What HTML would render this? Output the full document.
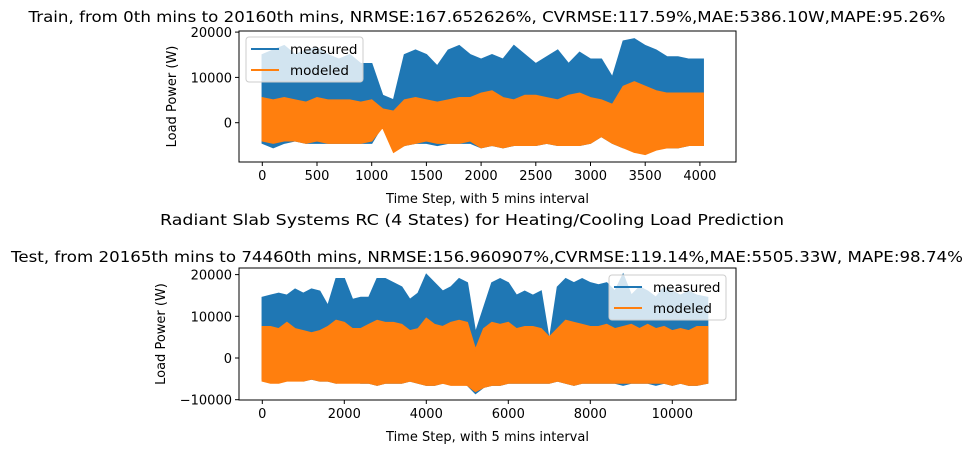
<!DOCTYPE html>
<html><head><meta charset="utf-8"><style>
body{margin:0;background:#fff;}
svg text{font-family:"DejaVu Sans","Liberation Sans",sans-serif;fill:#000;}
</style></head><body>
<svg id="chart" width="973" height="453" viewBox="0 0 973 453" xmlns="http://www.w3.org/2000/svg">
<text x="487" y="22" font-size="15.5" text-anchor="middle" textLength="917" lengthAdjust="spacingAndGlyphs">Train, from 0th mins to 20160th mins, NRMSE:167.652626%, CVRMSE:117.59%,MAE:5386.10W,MAPE:95.26%</text>
<text x="472" y="225" font-size="15.5" text-anchor="middle" textLength="624" lengthAdjust="spacingAndGlyphs">Radiant Slab Systems RC (4 States) for Heating/Cooling Load Prediction</text>
<text x="487" y="262" font-size="15.5" text-anchor="middle" textLength="952" lengthAdjust="spacingAndGlyphs">Test, from 20165th mins to 74460th mins, NRMSE:156.960907%,CVRMSE:119.14%,MAE:5505.33W, MAPE:98.74%</text>
<g id="top"></g><g id="bot"></g>
</svg>
<script>
// Train data (every 100 steps, 0..4000)
const trainSteps=[0,100,200,300,400,500,600,700,800,900,1000,1100,1200,1300,1400,1500,1600,1700,1800,1900,2000,2100,2200,2300,2400,2500,2600,2700,2800,2900,3000,3100,3200,3300,3400,3500,3600,3700,3800,3900,4030];
const trainMeasHi=[15000,16000,17000,15000,16000,16500,15000,14000,15000,13000,13000,6000,5000,15000,16000,15000,12500,16000,17000,15000,14000,15000,14000,17000,15000,13000,14500,16000,13000,15500,14000,14000,10000,18000,18500,17000,16000,14500,14500,14000,14000];
const trainMeasLo=[-4500,-5500,-4500,-4000,-4500,-4500,-4500,-4500,-4500,-4500,-4500,-500,-6000,-5000,-4500,-4500,-5000,-4500,-4500,-4500,-5500,-5000,-5500,-5000,-5000,-5000,-4500,-5000,-5000,-5000,-4500,-3000,-4500,-5500,-5500,-6500,-5500,-5500,-5500,-5000,-5000];
const trainModHi=[5500,5000,5500,5000,4500,5500,5000,5000,5000,4500,5000,3000,2500,5000,5500,5000,4500,5000,5500,5500,6500,7000,5500,5000,6000,6000,5500,5000,6000,6500,5500,5000,4000,8000,9000,8000,7000,6500,6500,6500,6500];
const trainModLo=[-4000,-4500,-4000,-4000,-4500,-4000,-4500,-4500,-4500,-4500,-4000,-1000,-6500,-5000,-4500,-4000,-4500,-4500,-4500,-4000,-5500,-5000,-5500,-5000,-5000,-5000,-4500,-5000,-5000,-5000,-4500,-3000,-4500,-5500,-6500,-7000,-6000,-5500,-5500,-5000,-5000];
// Test data (every 200 steps)
const testSteps=[0,200,400,600,800,1000,1200,1400,1600,1800,2000,2200,2400,2600,2800,3000,3200,3400,3600,3800,4000,4200,4400,4600,4800,5000,5200,5400,5600,5800,6000,6200,6400,6600,6800,7000,7200,7400,7600,7800,8000,8200,8400,8600,8800,9000,9200,9400,9600,9800,10000,10200,10400,10600,10860];
const testMeasHi=[14500,15000,15500,15000,16500,15500,16500,16000,12500,19000,19000,14000,14500,14500,19000,19000,18000,17000,14000,15500,20000,18000,16000,17000,19000,18000,6000,12000,18000,19000,18000,15000,16000,15000,16000,4000,17000,19000,18000,19000,18000,17500,18000,16000,20000,15000,17000,16000,14500,17000,16000,15000,16000,15000,14500];
const testMeasLo=[-5000,-5500,-5500,-5000,-5000,-5500,-5000,-5500,-5500,-6000,-5500,-5500,-6000,-6000,-6500,-6000,-6000,-6000,-5500,-6000,-6500,-6500,-6000,-6000,-6000,-6500,-8500,-7000,-6500,-6500,-6000,-6000,-6000,-6000,-6000,-6000,-5500,-6000,-6500,-6000,-6000,-6000,-6000,-6000,-6500,-6000,-6000,-6000,-6500,-6000,-6500,-6000,-6500,-6500,-6000];
const testModHi=[7500,7500,7000,8500,7000,6500,6000,6500,7500,9000,8500,7000,7000,8000,9000,8500,8500,8000,6500,7000,9500,8000,7500,8500,9000,8500,2000,7000,8500,8000,8500,7000,7500,7500,7000,5000,7000,9000,8500,8000,7500,7500,8000,7000,7500,8000,7000,8000,7000,7500,6500,7000,6500,7500,7500];
const testModLo=[-5500,-6000,-6000,-5500,-5500,-5500,-5000,-5500,-5500,-6000,-6000,-6000,-6000,-6000,-6500,-6000,-6000,-6000,-5500,-6000,-6500,-6500,-6000,-6500,-6500,-6500,-8000,-7000,-6500,-6500,-6000,-6000,-6000,-6000,-6000,-6000,-5500,-6000,-6500,-6000,-6000,-6000,-6000,-6000,-6000,-6000,-6000,-6000,-6000,-6000,-6500,-6000,-6500,-6500,-6000];
const trainXTicks=[0,500,1000,1500,2000,2500,3000,3500,4000];
const trainYTicks=[0,10000,20000];
const testXTicks=[0,2000,4000,6000,8000,10000];
const testYTicks=[-10000,0,10000,20000];

const NS="http://www.w3.org/2000/svg";
function mk(tag,attrs,parent){const e=document.createElementNS(NS,tag);for(const k in attrs)e.setAttribute(k,attrs[k]);parent.appendChild(e);return e;}

function panel(g,o){
  const X=v=>o.x0+(v-o.xmin)*o.kx, Y=v=>o.y0-(v-o.ymin)*o.ky;
  function band(steps,hi,lo,color,name){
    let pts=[];
    for(let i=0;i<steps.length;i++)pts.push(X(steps[i]).toFixed(1)+","+Y(hi[i]).toFixed(1));
    for(let i=steps.length-1;i>=0;i--)pts.push(X(steps[i]).toFixed(1)+","+Y(lo[i]).toFixed(1));
    const p=mk('polygon',{points:pts.join(' '),fill:color,stroke:color,'stroke-width':1.5,'stroke-linejoin':'miter'},g);
    
    
  }
  band(o.steps,o.mh,o.ml,'#1f77b4',o.id+'-measured-series');
  band(o.steps,o.dh,o.dl,'#ff7f0e',o.id+'-modeled-series');
  const fr=mk('rect',{x:o.L,y:o.T,width:o.R-o.L,height:o.B-o.T,fill:'none',stroke:'#000','stroke-width':1},g);
  
  
  o.xt.forEach(v=>{
    mk('line',{x1:X(v),x2:X(v),y1:o.B,y2:o.B+4,stroke:'#000'},g);
    const t=mk('text',{x:X(v),y:o.B+18,'font-size':13,'text-anchor':'middle'},g);t.textContent=v;
    
    
  });
  o.yt.forEach(v=>{
    mk('line',{x1:o.L-4,x2:o.L,y1:Y(v),y2:Y(v),stroke:'#000'},g);
    const t=mk('text',{x:o.L-7,y:Y(v)+5,'font-size':13,'text-anchor':'end'},g);t.textContent=(v<0?'\u2212'+(-v):v);
    
    
  });
  const xl=mk('text',{x:(o.L+o.R)/2,y:o.B+41,'font-size':13,'text-anchor':'middle'},g);xl.textContent='Time Step, with 5 mins interval';
  
  
  const yl=mk('text',{x:0,y:0,'font-size':13,'text-anchor':'middle',transform:`translate(${o.ylx},${(o.T+o.B)/2}) rotate(-90)`},g);yl.textContent='Load Power (W)';
  
  
  const lg=mk('g',{},g);
  
  
  mk('rect',{x:o.lx,y:o.ly,width:117,height:45,rx:3,fill:'rgba(255,255,255,0.8)',stroke:'#ccc'},lg);
  [['measured','#1f77b4'],['modeled','#ff7f0e']].forEach((e,i)=>{
    const yy=o.ly+12+i*21;
    mk('line',{x1:o.lx+5,x2:o.lx+33,y1:yy,y2:yy,stroke:e[1],'stroke-width':2},lg);
    const t=mk('text',{x:o.lx+44,y:yy+5,'font-size':13.5},lg);t.textContent=e[0];
    
    
  });
}
panel(document.getElementById('top'),{id:'train',L:239,R:736,T:31,B:162,x0:262.3,xmin:0,kx:54.7/500,y0:122.7,ymin:0,ky:45.3/10000,
  steps:trainSteps,mh:trainMeasHi,ml:trainMeasLo,dh:trainModHi,dl:trainModLo,xt:trainXTicks,yt:trainYTicks,ylx:176,lx:246,ly:37});
panel(document.getElementById('bot'),{id:'test',L:239,R:736,T:268,B:400,x0:262.3,xmin:0,kx:82/2000,y0:358,ymin:0,ky:41.7/10000,
  steps:testSteps,mh:testMeasHi,ml:testMeasLo,dh:testModHi,dl:testModLo,xt:testXTicks,yt:testYTicks,ylx:165,lx:609,ly:275});
</script>
</body></html>
